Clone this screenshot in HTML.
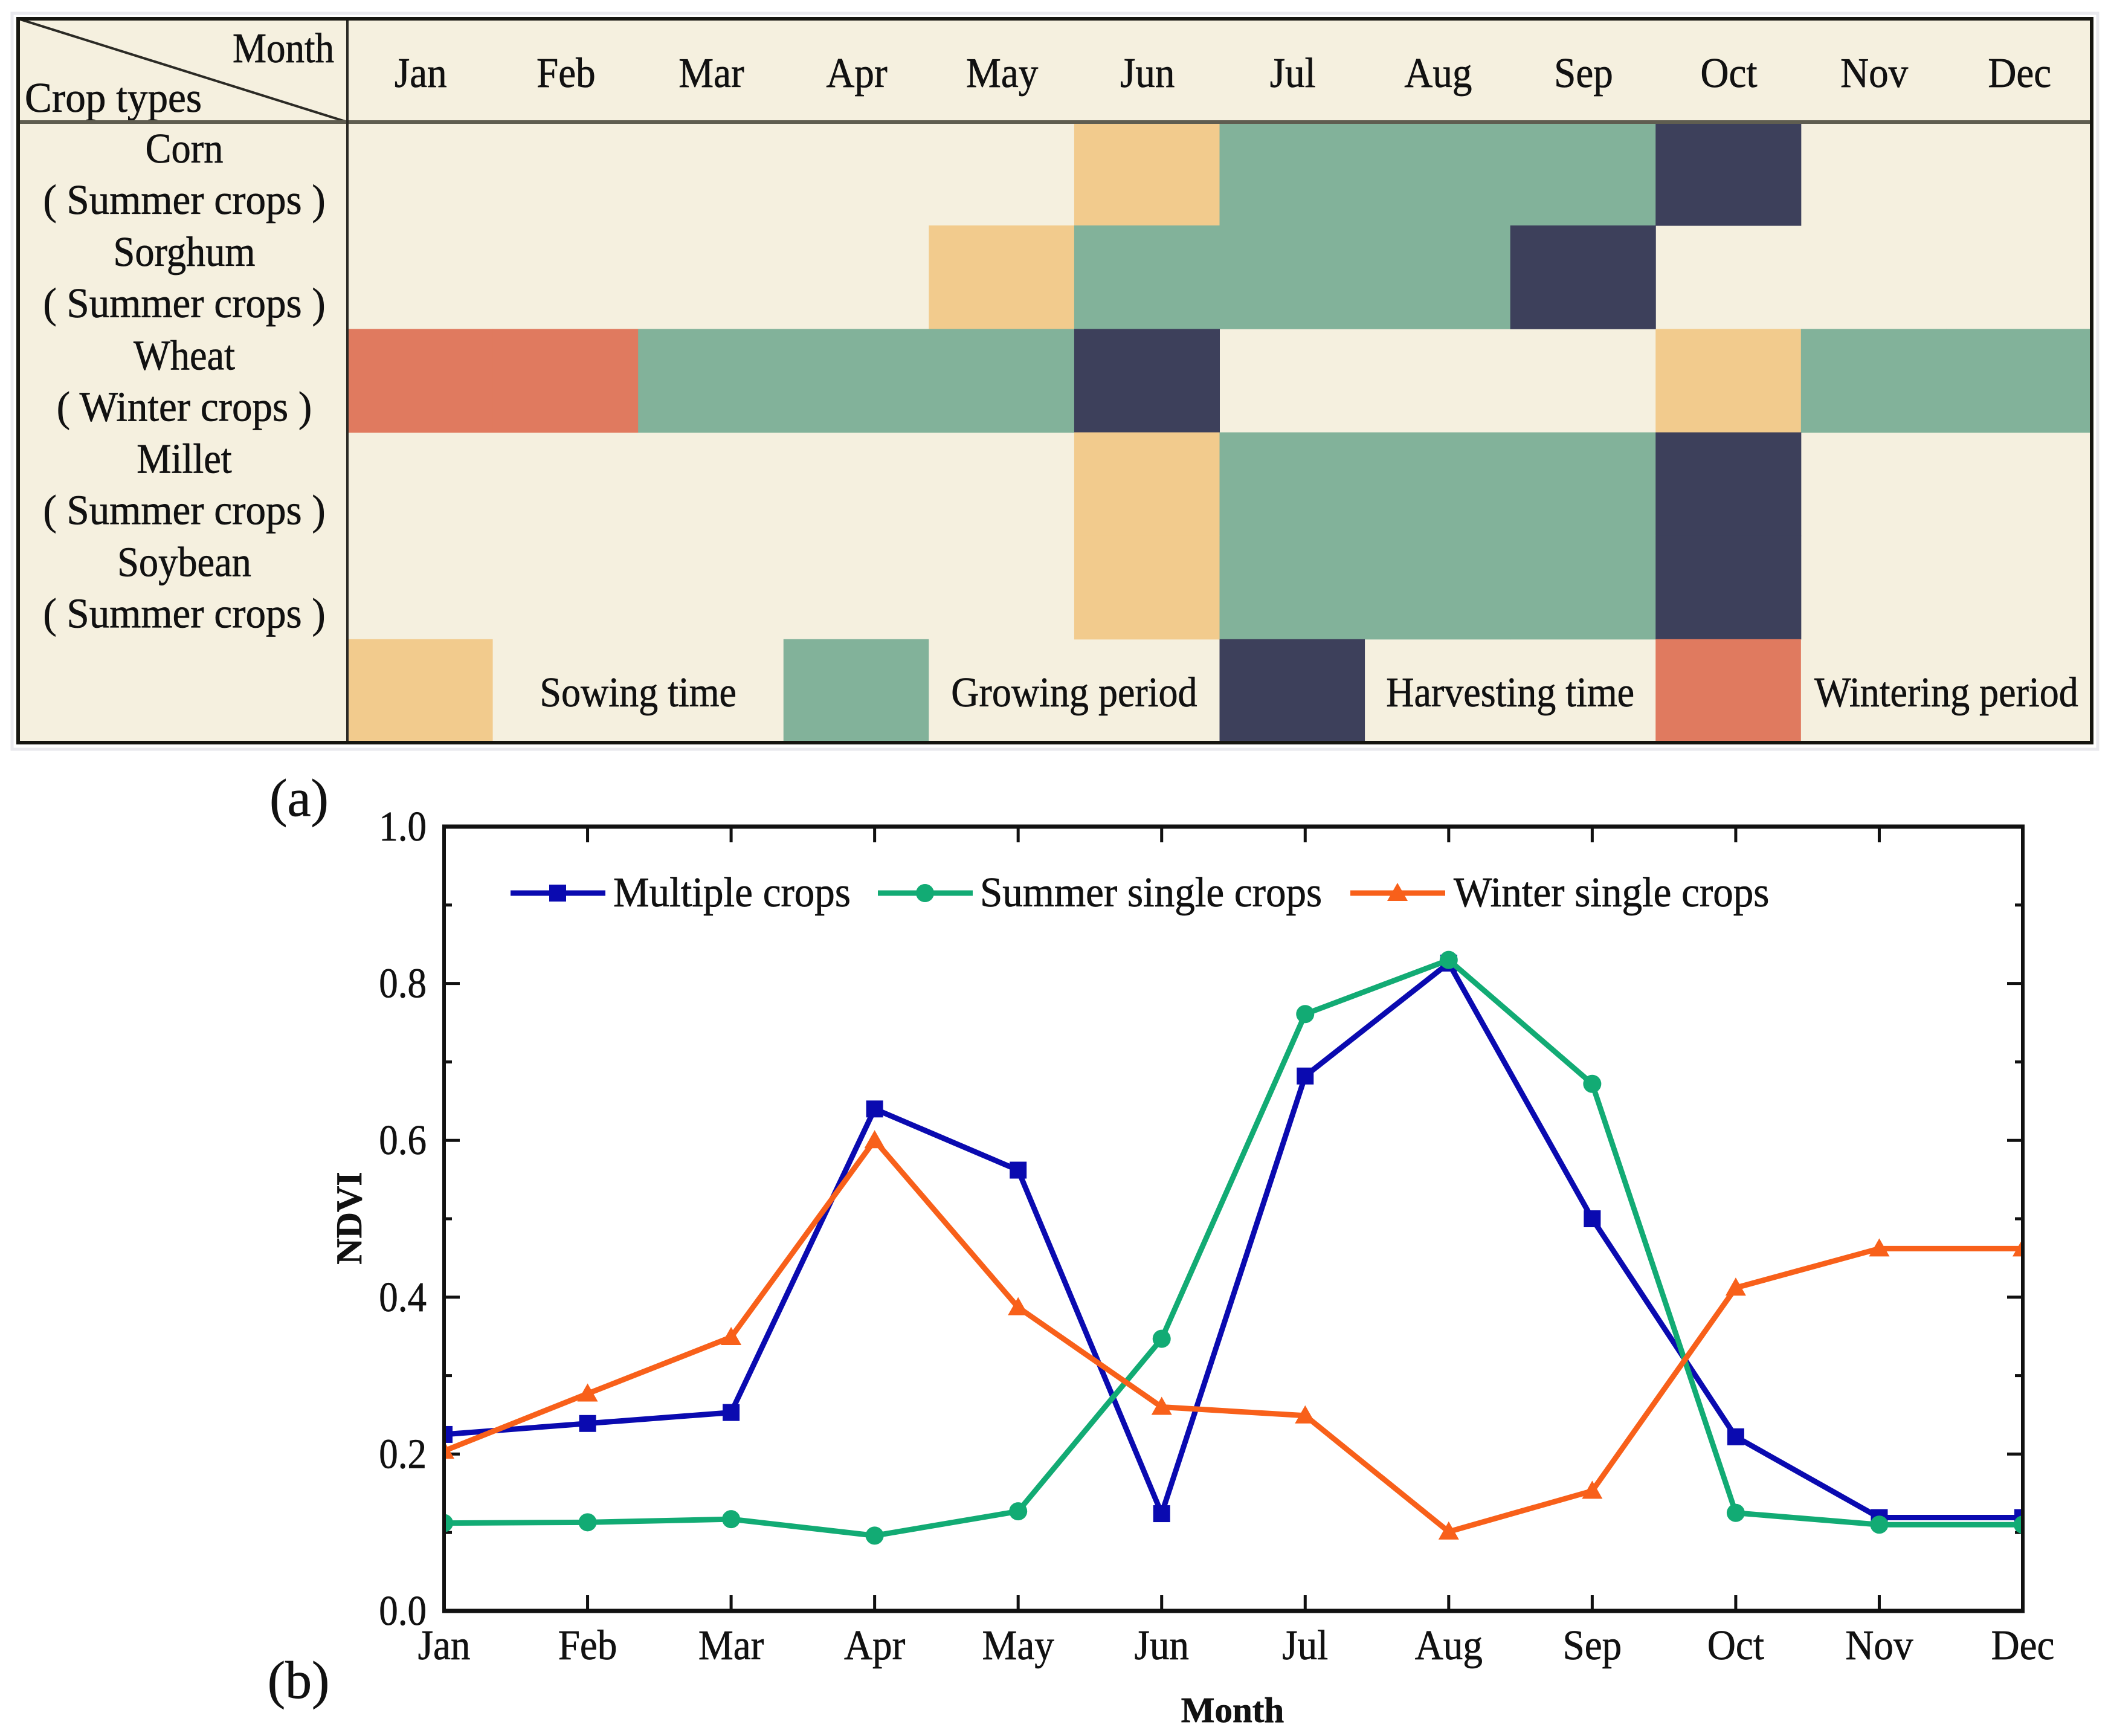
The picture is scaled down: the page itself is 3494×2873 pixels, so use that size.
<!DOCTYPE html>
<html lang="en">
<head>
<meta charset="utf-8">
<title>Crop calendar and monthly NDVI curves</title>
<style>
html,body{margin:0;padding:0;background:#fff;}
svg{display:block;}
text{font-family:"Liberation Serif","DejaVu Serif",serif;fill:#111;stroke:#111;stroke-width:0.7px;}
</style>
</head>
<body>
<svg id="figure" xmlns="http://www.w3.org/2000/svg" width="3494" height="2873" viewBox="0 0 3494 2873"></svg>
<script>
// ---- Panel (a): crop calendar ----
const months = ["Jan","Feb","Mar","Apr","May","Jun","Jul","Aug","Sep","Oct","Nov","Dec"];
const cropNames = ["Corn","Sorghum","Wheat","Millet","Soybean"];
const cropSeasons = ["( Summer crops )","( Summer crops )","( Winter crops )","( Summer crops )","( Summer crops )"];
// stage codes: 0 none, 1 sowing, 2 growing, 3 harvesting, 4 wintering
const cornStages    = [0,0,0,0,0,1,2,2,2,3,0,0];
const sorghumStages = [0,0,0,0,1,2,2,2,3,0,0,0];
const wheatStages   = [4,4,2,2,2,3,0,0,0,1,2,2];
const milletStages  = [0,0,0,0,0,1,2,2,2,3,0,0];
const soybeanStages = [0,0,0,0,0,1,2,2,2,3,0,0];
const keyLabels = ["Sowing time","Growing period","Harvesting time","Wintering period"];
const keyStages = [1,2,3,4];
const stageColors = ["#f5f0df","#f2cb8d","#82b29a","#3d405b","#e07a5f"];

// ---- Panel (b): NDVI line chart ----
const ndviMonths = ["Jan","Feb","Mar","Apr","May","Jun","Jul","Aug","Sep","Oct","Nov","Dec"];
const multipleCrops = [0.225,0.239,0.253,0.640,0.562,0.124,0.682,0.826,0.500,0.222,0.119,0.119];
const summerSingleCrops = [0.112,0.113,0.117,0.096,0.127,0.347,0.761,0.830,0.672,0.125,0.110,0.110];
const winterSingleCrops = [0.204,0.277,0.349,0.600,0.387,0.260,0.249,0.101,0.153,0.412,0.462,0.462];
const yTickLabels = ["0.0","0.2","0.4","0.6","0.8","1.0"];
const yMinorTicks = [0.1,0.3,0.5,0.7,0.9];

const NS = "http://www.w3.org/2000/svg";
const fig = document.getElementById("figure");
function el(tag, attrs, parent, txt) {
  const e = document.createElementNS(NS, tag);
  for (const k in attrs) e.setAttribute(k, attrs[k]);
  if (txt !== undefined) e.textContent = txt;
  (parent || fig).appendChild(e);
  return e;
}
// Text drawn slightly tall and narrow, like the reference's squeezed glyphs
function squeezed(x, y, sx, anchor, parent, txt) {
  return el("text", {transform:"translate(" + x + " " + y + ") scale(" + sx + " 1)", "font-size":TF, "text-anchor":anchor}, parent, txt);
}

// Table geometry
const tL = 30, tR = 3462, tT = 31, tB = 1229, tDiv = 575, tHead = 202;
const colW = (tR - tDiv) / 12;
const rowH = (tB - tHead) / 6;
const colX = i => tDiv + i * colW;
const rowY = i => tHead + i * rowH;
const TF = 70;

const halo = el("rect", {x:tL-10, y:tT-9, width:tR-tL+20, height:tB-tT+20, fill:"none", stroke:"#e9e9ee", "stroke-width":5});



const tableBg = el("rect", {x:tL, y:tT, width:tR-tL, height:tB-tT, fill:stageColors[0]});



const stageRows = [cornStages, sorghumStages, wheatStages, milletStages, soybeanStages];
stageRows.forEach((row, r) => {
  row.forEach((s, c) => {
    if (s === 0) return;
    const cell = el("rect", {x:colX(c), y:rowY(r), width:colW+0.5, height:rowH+0.5, fill:stageColors[s]});
    
    
  });
  const name = squeezed(305, rowY(r)+67, 0.92, "middle", fig, cropNames[r]);
  
  
  const season = squeezed(305, rowY(r)+152, 0.958, "middle", fig, cropSeasons[r]);
  
  
});

months.forEach((m, c) => {
  const t = squeezed(colX(c)+colW/2+1, 144, 0.93, "middle", fig, m);
  
  
});

// Key row
keyStages.forEach((s, i) => {
  const sw = el("rect", {x:colX(i*3), y:rowY(5), width:colW, height:rowH, fill:stageColors[s]});
  
  
  const t = squeezed(colX(i*3)+colW*2, 1169, 0.915, "middle", fig, keyLabels[i]);
  
  
});

const monthCorner = squeezed(553, 103, 0.9, "end", fig, "Month");


const cropCorner = squeezed(41, 185, 0.96, "start", fig, "Crop types");



const diag = el("line", {x1:tL, y1:tT, x2:tDiv, y2:tHead, stroke:"#2b2a25", "stroke-width":4});


const headLine = el("line", {x1:tL, y1:tHead, x2:tR, y2:tHead, stroke:"#5f5d50", "stroke-width":6});


const divLine = el("line", {x1:tDiv, y1:tT, x2:tDiv, y2:tB, stroke:"#2b2a25", "stroke-width":4});


const tableBorder = el("rect", {x:tL, y:tT, width:tR-tL, height:tB-tT, fill:"none", stroke:"#151510", "stroke-width":6});



const panelA = el("text", {x:495, y:1350, "font-size":88, "text-anchor":"middle"}, fig, "(a)");


const panelB = el("text", {x:494, y:2810, "font-size":88, "text-anchor":"middle"}, fig, "(b)");



// Chart geometry
const pL = 735, pR = 3348, pT = 1368, pB = 2666;
const xScale = i => pL + (pR - pL) * i / (ndviMonths.length - 1);
const yScale = v => pB - (pB - pT) * v;

const defs = el("defs", {});
const clip = el("clipPath", {id:"plot-clip"}, defs);
el("rect", {x:pL, y:pT, width:pR-pL, height:pB-pT}, clip);

// Ticks
ndviMonths.forEach((m, i) => {
  const x = xScale(i);
  if (i > 0 && i < ndviMonths.length - 1) {
    const b = el("line", {x1:x, y1:pB, x2:x, y2:pB-26, stroke:"#111", "stroke-width":5});
    
    
    const t = el("line", {x1:x, y1:pT, x2:x, y2:pT+26, stroke:"#111", "stroke-width":5});
    
    
  }
  const lab = squeezed(x, 2746, 0.93, "middle", fig, m);
  
  
});
yTickLabels.forEach(lbl => {
  const v = parseFloat(lbl);
  const y = yScale(v);
  if (v > 0 && v < 1) {
    const l = el("line", {x1:pL, y1:y, x2:pL+26, y2:y, stroke:"#111", "stroke-width":5});
    
    
    const r = el("line", {x1:pR, y1:y, x2:pR-26, y2:y, stroke:"#111", "stroke-width":5});
    
    
  }
  const lab = squeezed(706, y+23, 0.9, "end", fig, lbl);
  
  
});
yMinorTicks.forEach(v => {
  const y = yScale(v);
  const l = el("line", {x1:pL, y1:y, x2:pL+13, y2:y, stroke:"#111", "stroke-width":5});
  
  
  const r = el("line", {x1:pR, y1:y, x2:pR-13, y2:y, stroke:"#111", "stroke-width":5});
  
  
});

// Marker helper
function marker(g, kind, x, y, color) {
  if (kind === "square") return el("rect", {x:x-14, y:y-14, width:28, height:28, fill:color}, g);
  if (kind === "circle") return el("circle", {cx:x, cy:y, r:15, fill:color}, g);
  return el("polygon", {points:(x-17)+","+(y+13)+" "+(x+17)+","+(y+13)+" "+x+","+(y-17), fill:color}, g);
}

const seriesNames = ["Multiple crops","Summer single crops","Winter single crops"];
const seriesValues = [multipleCrops, summerSingleCrops, winterSingleCrops];
const seriesColors = ["#0a0ab0","#12ab74","#f8601a"];
const seriesMarkers = ["square","circle","triangle"];

const plotGroup = el("g", {"clip-path":"url(#plot-clip)"});


seriesValues.forEach((vals, s) => {
  const slug = seriesNames[s].toLowerCase().replace(/ /g, '-');
  const line = el("polyline", {
    points: vals.map((v, i) => xScale(i) + "," + yScale(v)).join(" "),
    fill:"none", stroke:seriesColors[s], "stroke-width":9, "stroke-linejoin":"round"
  }, plotGroup);
  
  
  vals.forEach((v, i) => {
    const m = marker(plotGroup, seriesMarkers[s], xScale(i), yScale(v), seriesColors[s]);
    
    
  });
});

// Axis frame
const frameT = el("line", {x1:pL-3, y1:pT, x2:pR+3, y2:pT, stroke:"#111", "stroke-width":7});


const frameB = el("line", {x1:pL-3, y1:pB, x2:pR+3, y2:pB, stroke:"#111", "stroke-width":7});


const frameL = el("line", {x1:pL, y1:pT, x2:pL, y2:pB, stroke:"#111", "stroke-width":6});


const frameR = el("line", {x1:pR, y1:pT, x2:pR, y2:pB, stroke:"#111", "stroke-width":6});



// Legend
const legendX = [845, 1453, 2235];
const legendTextX = [1015, 1622, 2406];
seriesNames.forEach((n, s) => {
  const slug = n.toLowerCase().replace(/ /g, '-');
  const g = el("g", {});
  
  
  const x0 = legendX[s];
  const ll = el("line", {x1:x0, y1:1478, x2:x0+157, y2:1478, stroke:seriesColors[s], "stroke-width":9}, g);
  
  
  const mk = marker(g, seriesMarkers[s], x0+78, 1478, seriesColors[s]);
  
  
  const tx = squeezed(legendTextX[s], 1500, 0.958, "start", g, n);
  
  
});

// Axis titles
const yTitle = el("text", {x:0, y:0, "font-size":60, "font-weight":"bold", "text-anchor":"middle", transform:"translate(598,2016) rotate(-90)"}, fig, "NDVI");


const xTitle = el("text", {x:2040, y:2850, "font-size":59, "font-weight":"bold", "text-anchor":"middle"}, fig, "Month");


</script>
</body>
</html>
